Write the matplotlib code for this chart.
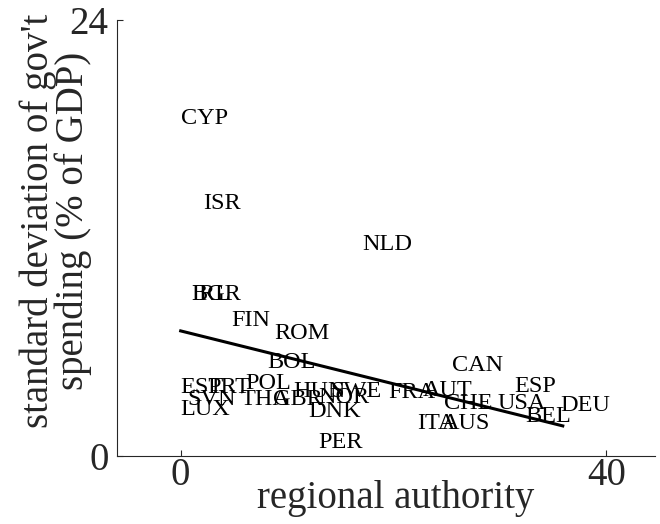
import matplotlib

matplotlib.use("Agg")
import matplotlib.pyplot as plt

# country labels placed at (regional authority, std of spending)
countries = ["CYP", "ISR", "NLD", "BGR", "IRL", "FIN", "ROM", "BOL",
             "EST", "PRT", "POL", "SVN", "THA", "GBR", "LUX", "HUN",
             "SWE", "NOR", "DNK", "PER", "FRA", "AUT", "CHE", "USA",
             "ITA", "AUS", "CAN", "ESP", "BEL", "DEU"]
regional_authority = [0.0, 2.07, 17.04, 1.04, 1.0, 4.71, 8.76, 8.10,
                      0.0, 2.54, 6.03, 0.66, 5.65, 8.66, 0.0, 10.55,
                      14.03, 12.9, 11.96, 12.9, 19.49, 22.79, 24.76, 29.75,
                      22.2, 24.5, 25.5, 31.36, 32.4, 35.7]
spending_sd = [18.6, 13.92, 11.61, 8.86, 8.86, 7.48, 6.71, 5.12,
               3.74, 3.74, 3.96, 3.08, 3.08, 3.08, 2.53, 3.52,
               3.52, 3.19, 2.42, 0.72, 3.47, 3.58, 2.86, 2.86,
               1.76, 1.76, 4.95, 3.80, 2.15, 2.75]

# fitted line endpoints
fit_x = [0.0, 35.9]
fit_y = [6.88, 1.65]

axis_gray = "#262626"

plt.rcParams.update({
    "font.family": ["Liberation Serif", "DejaVu Serif"],
    "axes.edgecolor": axis_gray,
    "axes.linewidth": 0.8,
    "xtick.color": axis_gray,
    "ytick.color": axis_gray,
})

fig = plt.figure(figsize=(6.6, 5.24), dpi=100)
ax = fig.add_axes([0.177, 0.130, 0.816, 0.832])

ax.plot(fit_x, fit_y, color="black", linewidth=2.2)
for name, x, y in zip(countries, regional_authority, spending_sd):
    ax.text(x, y, name, ha="left", va="center", fontsize=17.5, color="black")

ax.set_xlim(-6, 44.6)
ax.set_ylim(0, 24)
ax.set_xticks([0, 40])
ax.set_yticks([0, 24])
ax.tick_params(direction="in", length=4, width=0.8, labelsize=28)
ax.tick_params(axis="x", pad=1)
ax.tick_params(axis="y", pad=6)
ax.spines["top"].set_visible(False)
ax.spines["right"].set_visible(False)

ax.set_xlabel("regional authority", fontsize=28, color=axis_gray)
ax.xaxis.set_label_coords(0.517, -0.056)
ax.set_ylabel("standard deviation of gov't\nspending (% of GDP)", fontsize=28,
              color=axis_gray, linespacing=0.9)
ax.yaxis.set_label_coords(-0.046, 0.54)

fig.savefig("out.png", dpi=100)
